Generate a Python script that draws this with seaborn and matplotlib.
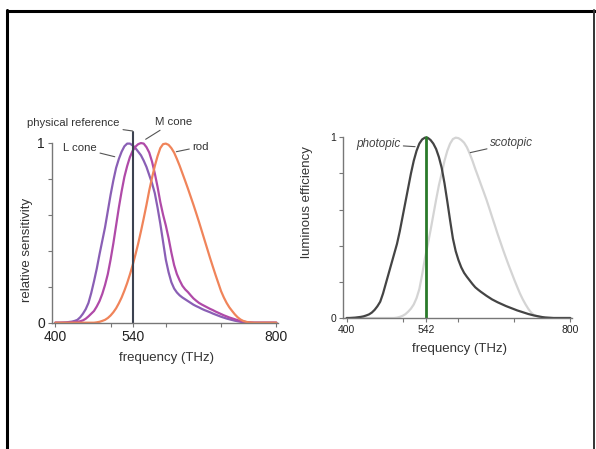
import pandas as pd
import seaborn as sns
import matplotlib.pyplot as plt
from matplotlib.lines import Line2D

# frequency grid (THz) and curves
freq = list(range(400, 805, 5))

l_cone = [0, 0, 0, 0.001, 0.002, 0.004, 0.006, 0.01, 0.016, 0.03,
          0.05, 0.075, 0.11, 0.165, 0.23, 0.30, 0.38, 0.455, 0.53, 0.62,
          0.71, 0.79, 0.86, 0.91, 0.95, 0.98, 0.995, 0.995, 0.985, 0.97,
          0.95, 0.93, 0.90, 0.865, 0.82, 0.775, 0.72, 0.64, 0.55, 0.45,
          0.35, 0.28, 0.225, 0.19, 0.168, 0.152, 0.14, 0.13, 0.12, 0.11,
          0.10, 0.092, 0.085, 0.077, 0.07, 0.064, 0.058, 0.051, 0.045, 0.039,
          0.033, 0.028, 0.023, 0.019, 0.015, 0.011, 0.008, 0.005, 0.003, 0.002,
          0.001, 0, 0, 0, 0, 0, 0, 0, 0, 0, 0]
m_cone = [0, 0, 0, 0, 0, 0.001, 0.002, 0.003, 0.005, 0.008,
          0.013, 0.022, 0.035, 0.05, 0.065, 0.09, 0.12, 0.16, 0.21, 0.27,
          0.35, 0.44, 0.54, 0.64, 0.73, 0.81, 0.87, 0.92, 0.955, 0.978,
          0.992, 0.998, 0.995, 0.975, 0.945, 0.895, 0.83, 0.755, 0.67, 0.60,
          0.54, 0.47, 0.39, 0.32, 0.27, 0.235, 0.205, 0.185, 0.17, 0.152,
          0.135, 0.122, 0.11, 0.101, 0.093, 0.085, 0.077, 0.07, 0.062, 0.055,
          0.048, 0.041, 0.035, 0.029, 0.024, 0.019, 0.014, 0.01, 0.007, 0.004,
          0.002, 0.001, 0, 0, 0, 0, 0, 0, 0, 0, 0]
rod = [0, 0, 0, 0, 0, 0, 0, 0, 0, 0,
       0, 0, 0, 0, 0, 0.002, 0.005, 0.01, 0.016, 0.026,
       0.04, 0.058, 0.08, 0.108, 0.14, 0.178, 0.22, 0.268, 0.32, 0.378,
       0.44, 0.508, 0.58, 0.655, 0.735, 0.805, 0.87, 0.925, 0.97, 0.992,
       0.995, 0.988, 0.97, 0.945, 0.91, 0.872, 0.83, 0.788, 0.745, 0.70,
       0.655, 0.608, 0.56, 0.51, 0.46, 0.41, 0.36, 0.312, 0.265, 0.22,
       0.175, 0.14, 0.11, 0.085, 0.065, 0.046, 0.03, 0.018, 0.01, 0.005,
       0.002, 0.001, 0, 0, 0, 0, 0, 0, 0, 0, 0]
photopic = [0, 0, 0.001, 0.002, 0.004, 0.006, 0.009, 0.014, 0.02, 0.03,
            0.045, 0.065, 0.09, 0.135, 0.19, 0.245, 0.30, 0.355, 0.41, 0.48,
            0.56, 0.64, 0.72, 0.80, 0.87, 0.925, 0.965, 0.988, 0.998, 0.997,
            0.985, 0.965, 0.935, 0.89, 0.83, 0.745, 0.645, 0.54, 0.44, 0.37,
            0.32, 0.28, 0.25, 0.228, 0.208, 0.188, 0.17, 0.157, 0.145, 0.134,
            0.123, 0.113, 0.103, 0.095, 0.087, 0.08, 0.073, 0.066, 0.06, 0.054,
            0.048, 0.042, 0.037, 0.032, 0.027, 0.022, 0.018, 0.014, 0.011, 0.008,
            0.005, 0.003, 0.002, 0.001, 0, 0, 0, 0, 0, 0, 0]
scotopic = [0, 0, 0, 0, 0, 0, 0, 0, 0, 0,
            0, 0, 0, 0, 0, 0, 0, 0, 0.002, 0.006,
            0.012, 0.021, 0.035, 0.052, 0.075, 0.11, 0.16, 0.24, 0.33, 0.405,
            0.485, 0.57, 0.655, 0.735, 0.80, 0.87, 0.925, 0.965, 0.99, 0.998,
            0.995, 0.985, 0.97, 0.945, 0.91, 0.87, 0.825, 0.783, 0.74, 0.698,
            0.655, 0.608, 0.56, 0.513, 0.465, 0.42, 0.375, 0.332, 0.29, 0.25,
            0.21, 0.172, 0.135, 0.103, 0.075, 0.05, 0.03, 0.017, 0.01, 0.005,
            0.002, 0.001, 0, 0, 0, 0, 0, 0, 0, 0, 0]

ref_left = 540
ref_right = 542

sns.set_style("white")
plt.rcParams['font.family'] = ['Liberation Sans', 'DejaVu Sans']

fig = plt.figure(figsize=(5.96, 4.49), dpi=100)
W, H = 596, 449


def axes_px(x0, x1, ybot, ytop):
    return fig.add_axes([x0 / W, (H - ybot) / H, (x1 - x0) / W, (ybot - ytop) / H])


def style_axes(ax, ylabel, xlabel, tick_size, xticks, xticklabels):
    ax.set_xlim(394, 803)
    ax.set_ylim(0, 1.1)
    sns.despine(ax=ax)
    ax.spines['left'].set_bounds(0, 1)
    for s in ('left', 'bottom'):
        ax.spines[s].set_color('#777777')
        ax.spines[s].set_linewidth(1.0)
    ax.set_yticks([0, 0.2, 0.4, 0.6, 0.8, 1.0])
    ax.set_yticklabels(['0', '', '', '', '', '1'])
    ax.set_xticks(xticks)
    ax.set_xticklabels(xticklabels)
    ax.tick_params(axis='both', length=3, width=0.8, color='#777777',
                   labelsize=tick_size, labelcolor='#222222', pad=2,
                   left=True, bottom=True)
    ax.set_xlabel(xlabel, fontsize=9.5, color='#333333')
    ax.set_ylabel(ylabel, fontsize=9.5, color='#333333')


# ---- left panel
ax1 = axes_px(52, 278, 322.7, 124.7)
sns.lineplot(x=freq, y=l_cone, ax=ax1, color='#8a5fb5', lw=1.6)
sns.lineplot(x=freq, y=m_cone, ax=ax1, color='#b04aa8', lw=1.6)
sns.lineplot(x=freq, y=rod, ax=ax1, color='#f0845a', lw=1.6)
ax1.plot([ref_left, ref_left], [0, 1.06], color='#3c4250', lw=1.5, clip_on=False)
style_axes(ax1, 'relative sensitivity', 'frequency (THz)', 10,
           [400, 500, 540, 600, 700, 800], ['400', '', '540', '', '', '800'])
ax1.yaxis.set_label_coords(-0.083, 0.367)
ax1.xaxis.set_label_coords(0.507, -0.146)

ann = dict(fontsize=8.2, color='#333333', va='center', annotation_clip=False)
lead = dict(arrowstyle='-', color='#555555', lw=0.8, shrinkA=0, shrinkB=0)
ax1.annotate('physical reference', xy=(540, 1.065), xytext=(516.6, 1.111),
             ha='right', arrowprops=lead, **ann)
ax1.annotate('M cone', xy=(563.5, 1.019), xytext=(579.8, 1.115),
             ha='left', arrowprops=lead, **ann)
ax1.annotate('L cone', xy=(507.6, 0.922), xytext=(475, 0.97),
             ha='right', arrowprops=lead, **ann)
ax1.annotate('rod', xy=(619, 0.95), xytext=(648.4, 0.978),
             ha='left', arrowprops=lead, **ann)

# ---- right panel
ax2 = axes_px(343.3, 572, 318, 119.2)
sns.lineplot(x=freq, y=scotopic, ax=ax2, color='#d4d4d4', lw=1.6)
sns.lineplot(x=freq, y=photopic, ax=ax2, color='#444444', lw=1.6)
ax2.plot([ref_right, ref_right], [0, 1.0], color='#2a7a2a', lw=2)
style_axes(ax2, 'luminous efficiency', 'frequency (THz)', 7.5,
           [400, 500, 542, 600, 700, 800], ['400', '', '542', '', '', '800'])
ax2.yaxis.set_label_coords(-0.131, 0.581)
ax2.xaxis.set_label_coords(0.51, -0.127)

ann2 = dict(fontsize=8.5, color='#444444', va='center', style='italic',
            annotation_clip=False)
ax2.annotate('photopic', xy=(522.4, 0.948), xytext=(495.5, 0.961),
             ha='right', arrowprops=lead, **ann2)
ax2.annotate('scotopic', xy=(621, 0.915), xytext=(656.8, 0.967),
             ha='left', arrowprops=lead, **ann2)

# ---- slide frame
def fline(xs, ys, color, lw):
    fig.add_artist(Line2D([x / W for x in xs], [(H - y) / H for y in ys],
                          color=color, lw=lw, transform=fig.transFigure))


fline([7, 595], [10.5, 10.5], 'black', 2.2)
fline([7, 7], [10, 449], 'black', 2.2)
fline([594.3, 594.3], [10, 449], '#333333', 1.4)

fig.savefig('out.png', dpi=100)
